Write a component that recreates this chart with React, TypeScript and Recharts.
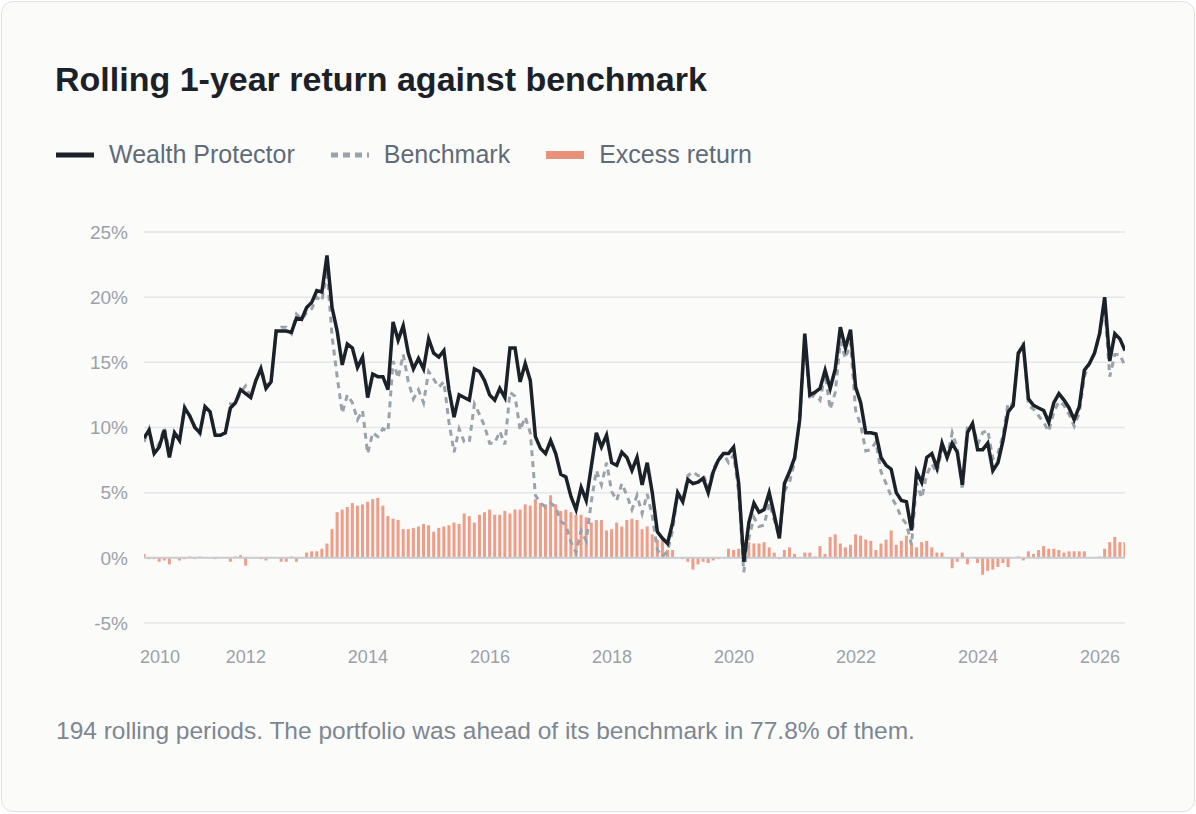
import React from 'react'
import { ComposedChart, Line, Bar, XAxis, YAxis, CartesianGrid, ReferenceLine } from 'recharts'

const START = 2010.33
const END = 2026.41

const portfolio = [
  9.2, 9.8, 8.0, 8.5, 9.8, 7.7, 9.6, 9.0, 11.5, 10.9, 10.0, 9.6, 11.6, 11.2, 9.4, 9.4, 9.6, 11.5, 11.9, 12.9,
  12.6, 12.3, 13.6, 14.5, 13.0, 13.5, 17.4, 17.4, 17.4, 17.3, 18.4, 18.3, 19.2, 19.6, 20.5, 20.4, 23.2, 19.2, 17.4, 14.8,
  16.4, 16.1, 14.6, 15.4, 12.3, 14.1, 13.9, 13.9, 12.9, 18.1, 16.7, 17.8, 15.7, 14.5, 15.3, 14.5, 16.8, 15.7, 15.4, 15.9,
  12.9, 10.8, 12.5, 12.3, 12.1, 14.5, 14.3, 13.6, 12.5, 12.1, 13.0, 12.3, 16.1, 16.1, 13.5, 14.9, 13.6, 9.3, 8.4, 8.0,
  9.0, 8.0, 6.4, 6.2, 4.7, 3.7, 5.4, 4.4, 7.0, 9.6, 8.5, 9.4, 7.3, 7.1, 8.1, 7.7, 6.7, 7.7, 5.6, 7.3,
  5.0, 2.0, 1.5, 1.1, 2.7, 5.0, 4.3, 6.0, 5.7, 5.8, 6.1, 5.0, 6.6, 7.5, 8.0, 8.0, 8.5, 5.7, -0.3, 2.7,
  4.2, 3.5, 3.7, 5.0, 3.3, 1.5, 5.7, 6.6, 7.7, 10.6, 17.2, 12.5, 12.7, 13.0, 14.4, 13.0, 14.5, 17.7, 16.1, 17.5,
  13.1, 11.9, 9.6, 9.6, 9.5, 7.7, 7.1, 6.8, 5.0, 4.4, 4.3, 2.1, 6.6, 5.8, 7.7, 8.0, 6.9, 8.8, 7.7, 8.8,
  8.1, 5.6, 9.6, 10.3, 8.3, 8.3, 8.8, 6.7, 7.3, 9.0, 11.2, 11.7, 15.7, 16.3, 12.2, 11.7, 11.5, 11.3, 10.4, 11.9,
  12.6, 12.1, 11.5, 10.6, 11.6, 14.4, 14.9, 15.7, 17.2, 20.0, 15.1, 17.2, 16.8, 15.9,
]

const excess = [
  0.3, -0.1, -0.1, -0.3, -0.2, -0.5, 0, -0.2, -0.1, 0.1, -0.1, 0.1, 0, 0, -0.1, 0, 0, -0.3, 0.1, 0.2,
  -0.6, 0, 0, -0.1, -0.2, 0, 0, -0.3, -0.3, 0.1, -0.3, 0, 0.4, 0.5, 0.5, 0.7, 1.1, 2.2, 3.5, 3.7,
  3.9, 4.2, 4.0, 4.1, 4.3, 4.5, 4.6, 4.0, 3.2, 3.0, 2.9, 2.2, 2.2, 2.3, 2.4, 2.6, 2.5, 2.0, 2.3, 2.4,
  2.5, 2.7, 2.6, 3.4, 3.2, 2.7, 3.3, 3.5, 3.7, 3.3, 3.3, 3.6, 3.4, 3.7, 3.7, 4.1, 4.0, 4.5, 4.2, 4.1,
  4.8, 4.1, 3.6, 3.7, 3.5, 3.3, 3.3, 3.1, 2.7, 2.9, 2.9, 2.1, 2.2, 2.7, 2.4, 2.9, 3.0, 2.9, 2.2, 2.4,
  1.8, 1.4, 1.4, 0.6, 0.6, 0, -0.1, -0.3, -0.9, -0.5, -0.3, -0.4, -0.2, -0.1, 0, 0.7, 0.6, 0.7, 0.8, 1.2,
  1.1, 1.1, 1.2, 0.8, 0.4, -0.1, 0.6, 0.8, 0.3, 0, 0.4, 0.4, 0.1, 0.9, 0.3, 1.6, 1.8, 1.1, 0.8, 1.0,
  1.8, 1.7, 1.4, 1.3, 0.6, 1.1, 1.4, 2.1, 1.0, 1.3, 1.7, 1.1, 0.8, 1.2, 1.3, 0.8, 0.4, 0.4, 0, -0.8,
  -0.3, 0.4, -0.5, 0, -0.4, -1.3, -1.0, -0.9, -0.7, -0.4, -0.7, 0, 0.1, -0.2, 0.5, 0.3, 0.6, 0.9, 0.7, 0.7,
  0.6, 0.4, 0.5, 0.5, 0.5, 0.5, 0, 0, 0.1, 0.7, 1.2, 1.6, 1.2, 1.2, 1.1,
]

// first tick sits on the first period and is labelled with its year
const xTicks = [START, 2012, 2014, 2016, 2018, 2020, 2022, 2024, 2026]
const yTicks = [-5, 0, 5, 10, 15, 20, 25]

const n = portfolio.length
const data = portfolio.map((p, i) => {
  const e = excess[i] ?? 0
  return { t: START + (i * (END - START)) / (n - 1), p, b: +(p - e).toFixed(2), e }
})

const font = '"Liberation Sans", Arial, sans-serif'

function XTick(props: any) {
  const { x, y, payload } = props
  const first = payload.value === START
  return (
    <text x={first ? x + 16 : x} y={y} dy={14} textAnchor="middle" fill="#9aa1aa" fontSize={18} fontFamily={font}>
      {first ? '2010' : payload.value}
    </text>
  )
}

function LegendItem({ label, children }: { label: string; children: React.ReactNode }) {
  return (
    <div style={{ display: 'flex', alignItems: 'center', marginRight: 36 }}>
      <svg width={40} height={10} style={{ marginRight: 13 }}>{children}</svg>
      <span>{label}</span>
    </div>
  )
}

export default function App() {
  return (
    <div style={{ position: 'absolute', left: 1, top: 1, width: 1192, height: 809, border: '1px solid #e1e1e1', borderRadius: 12, background: '#fbfbf9', fontFamily: font, overflow: 'hidden' }}>
      <div style={{ position: 'absolute', left: 53, top: 58, fontSize: 34, fontWeight: 700, color: '#1b2129' }}>
        Rolling 1-year return against benchmark
      </div>
      <div style={{ position: 'absolute', left: 54, top: 138, display: 'flex', fontSize: 25, color: '#5f6b78' }}>
        <LegendItem label="Wealth Protector">
          <line x1={0} y1={5} x2={38} y2={5} stroke="#1b2129" strokeWidth={5} />
        </LegendItem>
        <LegendItem label="Benchmark">
          <line x1={0} y1={5} x2={38} y2={5} stroke="#9aa2ab" strokeWidth={5} strokeDasharray="7 5" />
        </LegendItem>
        <LegendItem label="Excess return">
          <line x1={0} y1={5} x2={38} y2={5} stroke="#e8907a" strokeWidth={8} />
        </LegendItem>
      </div>
      <div style={{ position: 'absolute', left: 0, top: 199 }}>
        <ComposedChart width={1195} height={470} data={data} margin={{ top: 31, right: 72, left: 82, bottom: 0 }}>
          <CartesianGrid vertical={false} stroke="#e4e6e9" strokeWidth={1.5} />
          <XAxis dataKey="t" type="number" domain={[START, END]} ticks={xTicks} axisLine={false} tickLine={false}
            tick={<XTick />} tickMargin={20} height={48} allowDataOverflow interval={0} />
          <YAxis domain={[-5, 25]} ticks={yTicks} axisLine={false} tickLine={false} width={60}
            tickFormatter={(v) => `${v}%`} tick={{ fill: '#9aa1aa', fontSize: 19, fontFamily: font }} tickMargin={10} />
          <Bar dataKey="e" fill="#ea8c74" fillOpacity={0.85} barSize={3} isAnimationActive={false} />
          <ReferenceLine y={0} stroke="#c9cdd2" strokeWidth={2} />
          <Line dataKey="b" stroke="#9aa2ab" strokeWidth={3} strokeDasharray="6 5" dot={false} isAnimationActive={false} />
          <Line dataKey="p" stroke="#1b2129" strokeWidth={3.5} dot={false} isAnimationActive={false} />
        </ComposedChart>
      </div>
      <div style={{ position: 'absolute', left: 54, top: 715, fontSize: 24.5, color: '#7d8792' }}>
        194 rolling periods. The portfolio was ahead of its benchmark in 77.8% of them.
      </div>
    </div>
  )
}
